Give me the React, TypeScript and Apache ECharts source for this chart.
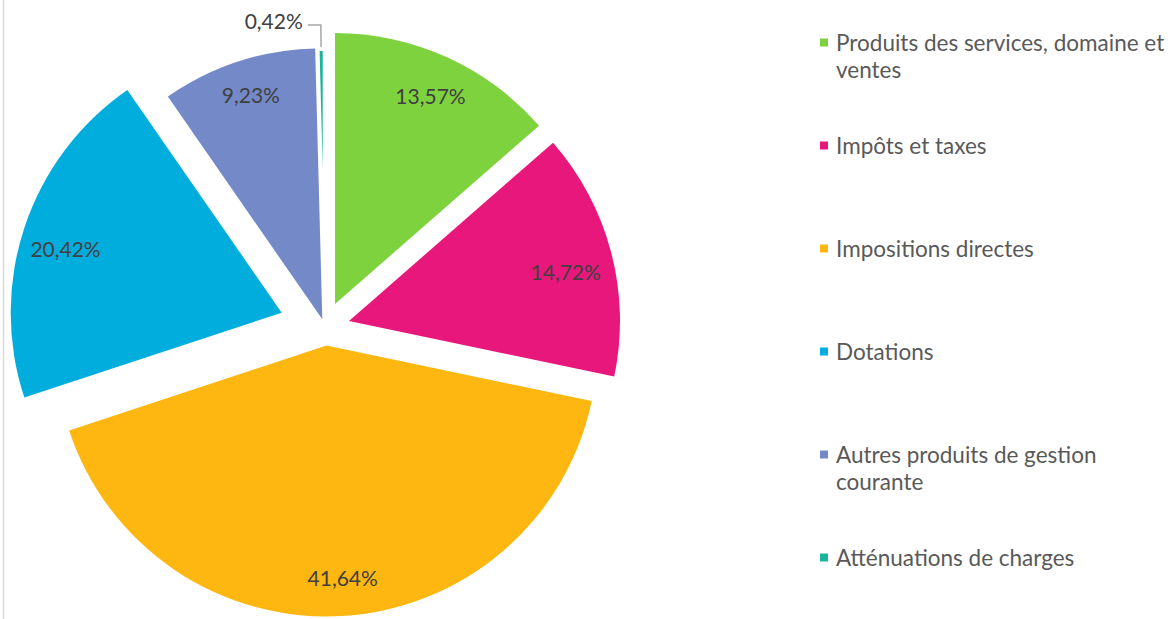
import React, { useEffect, useRef } from 'react';
import * as echarts from 'echarts';

// ---- data ----
const categories = [
  'Produits des services, domaine et ventes',
  'Impôts et taxes',
  'Impositions directes',
  'Dotations',
  'Autres produits de gestion courante',
  'Atténuations de charges',
];
const legendLines = [
  ['Produits des services, domaine et', 'ventes'],
  ['Impôts et taxes'],
  ['Impositions directes'],
  ['Dotations'],
  ['Autres produits de gestion', 'courante'],
  ['Atténuations de charges'],
];
const shares = [13.57, 14.72, 41.64, 20.42, 9.23, 0.42];
const sliceColors = ['#7ED23E', '#E8177C', '#FDB710', '#00ADDC', '#7489C7', '#17B39B'];

// ---- layout (positions of exploded slices, not data) ----
const RADIUS = 271;
const sliceCenters: [number, number][] = [
  [335, 304],
  [349, 321],
  [326.5, 345.5],
  [281.7, 312.7],
  [322.3, 319.3],
  [324.7, 320],
];
const labelInner = [185, 171, 195, 181, 195, 0];
const labelOffsets: [number, number][] = [
  [0, 2],
  [0, 7],
  [3, -4],
  [1, 8],
  [2, -1],
  [0, -5],
];
const legendCenters = [42.5, 145.5, 248.5, 351.5, 454.5, 557.5];
const FONT = 'Lato, "Open Sans", sans-serif';
const CLEAR = 'rgba(0,0,0,0)';

const fmt = (v: number) => v.toFixed(2).replace('.', ',') + '%';

function buildSeries() {
  const series: any[] = [];
  const order = [5, 0, 1, 2, 3, 4];
  order.forEach((i) => {
    series.push({
      type: 'pie',
      silent: true,
      center: sliceCenters[i],
      radius: [0, RADIUS],
      startAngle: 90,
      clockwise: true,
      avoidLabelOverlap: false,
      emphasis: { disabled: true },
      label: { show: false },
      labelLine: { show: false },
      data: categories.map((name, j) => {
        if (j !== i) {
          return {
            name,
            value: shares[j],
            itemStyle: { color: CLEAR, borderWidth: 0 },
            label: { show: false },
            labelLine: { show: false },
          };
        }
        const small = i === 5;
        return {
          name,
          value: shares[j],
          itemStyle: {
            color: sliceColors[j],
            borderColor: '#ffffff',
            borderWidth: small ? 4 : 0,
          },
          label: small
            ? {
                show: true,
                position: 'outside',
                formatter: fmt(shares[j]),
                color: '#404040',
                fontFamily: FONT,
                fontSize: 21,
                offset: labelOffsets[j],
              }
            : { show: false },
          labelLine: small
            ? { show: true, length: 24, length2: 13, lineStyle: { color: '#A6A6A6', width: 1.5 } }
            : { show: false },
        };
      }),
    });
  });
  [0, 1, 2, 3, 4].forEach((i) => {
    series.push({
      type: 'pie',
      silent: true,
      center: sliceCenters[i],
      radius: [labelInner[i], RADIUS],
      startAngle: 90,
      clockwise: true,
      avoidLabelOverlap: false,
      emphasis: { disabled: true },
      label: { show: false },
      labelLine: { show: false },
      data: categories.map((name, j) => ({
        name,
        value: shares[j],
        itemStyle: { color: CLEAR, borderWidth: 0 },
        label:
          j === i
            ? {
                show: true,
                position: 'inside',
                formatter: fmt(shares[j]),
                color: '#404040',
                fontFamily: FONT,
                fontSize: 21,
                offset: labelOffsets[j],
              }
            : { show: false },
        labelLine: { show: false },
      })),
    });
  });
  return series;
}

function buildLegends() {
  return categories.map((name, i) => {
    const lines = legendLines[i];
    const twoLines = lines.length > 1;
    // a leading empty line keeps the first text line level with the marker
    const text = twoLines ? '\n' + lines.join('\n') : lines[0];
    return {
      data: [{ name, itemStyle: { color: sliceColors[i], borderWidth: 0 } }],
      orient: 'vertical',
      left: 820,
      top: twoLines ? legendCenters[i] - 40.5 : legendCenters[i] - 13.5,
      padding: 0,
      itemWidth: 8,
      itemHeight: 8,
      itemGap: 0,
      icon: 'rect',
      selectedMode: false,
      formatter: () => text,
      textStyle: {
        fontFamily: FONT,
        fontSize: 22.5,
        color: '#595959',
        lineHeight: 27,
        padding: [0, 0, 0, 3],
      },
    };
  });
}

export default function App() {
  const ref = useRef<HTMLDivElement>(null);
  useEffect(() => {
    if (!ref.current) return;
    const chart = echarts.init(ref.current, undefined, { renderer: 'svg' });
    chart.setOption({
      animation: false,
      backgroundColor: '#ffffff',
      legend: buildLegends(),
      graphic: [
        {
          type: 'line',
          shape: { x1: 3.5, y1: 0, x2: 3.5, y2: 619 },
          style: { stroke: '#D9D9D9', lineWidth: 1.5 },
          silent: true,
        },
      ],
      series: buildSeries(),
    });
    return () => chart.dispose();
  }, []);
  return (
    <div
      ref={ref}
      style={{ position: 'absolute', left: 0, top: 0, width: 1170, height: 619 }}
    />
  );
}
